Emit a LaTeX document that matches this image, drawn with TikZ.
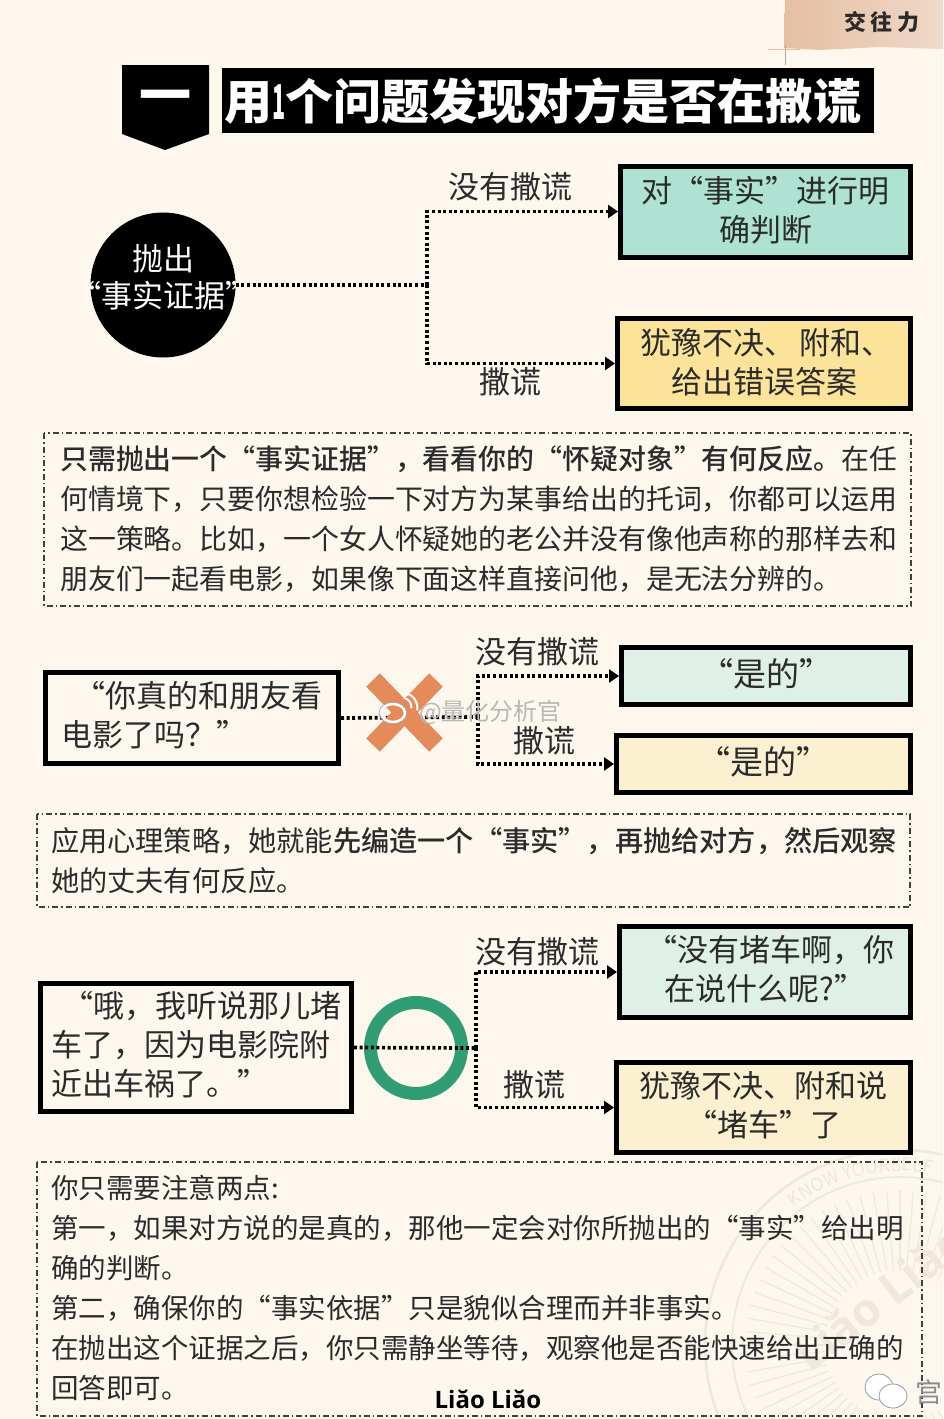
\documentclass[tikz,border=0pt]{standalone}
\usepackage{graphicx}
\usepackage{fontspec}
\setmainfont{Noto Sans CJK SC}
\newfontfamily\logofont{Open Sans}
\usetikzlibrary{arrows.meta,calc,decorations.text}
\definecolor{bgc}{HTML}{FDF7EE}
\definecolor{ink}{HTML}{2B2B2B}
\definecolor{mintA}{HTML}{AEE3D3}
\definecolor{mintB}{HTML}{DFF0E6}
\definecolor{yelA}{HTML}{FBE39A}
\definecolor{yelB}{HTML}{FBF0CF}
\definecolor{xorange}{HTML}{E58B5A}
\definecolor{ringg}{HTML}{2F9E74}
\definecolor{tape}{HTML}{E5BFA3}
\definecolor{tapeb}{HTML}{EFD9C8}
\definecolor{seal}{HTML}{F1E7DA}
\newcommand\upfix[1][8]{\rule[-#1pt]{0pt}{0pt}}
\tikzset{
  bx/.style={draw=black,line width=5pt,inner sep=0pt,outer sep=2.5pt,align=center,text=ink,font=\fontsize{31}{39}\selectfont},
  lab/.style={inner sep=0pt,text=ink,font=\fontsize{31}{39}\selectfont},
  para/.style={inner sep=0pt,anchor=west,align=left,text=ink,font=\fontsize{27.9}{40}\selectfont},
  framebox/.style={draw=black!75,line width=1.1pt,dash pattern=on 6pt off 3pt on 1.5pt off 3pt},
  conn/.style={draw=black,line width=3.7pt,dash pattern=on 3pt off 2.6pt},
  arr/.style={conn,-{Triangle[length=10pt,width=13pt,sep=0pt]}},
}
\begin{document}
\begin{tikzpicture}[x=1pt,y=-1pt]
\useasboundingbox (0,0) rectangle (943,1419);
\fill[bgc] (0,0) rectangle (943,1419);
% faint seal
\begin{scope}
\clip (0,0) rectangle (943,1419);
\begin{scope}[shift={(900,1345)}]
\draw[seal,line width=2.5pt] (0,0) circle (195);
\draw[seal,line width=1.8pt] (0,0) circle (168);
\foreach \a in {0,5,...,355} \draw[seal,line width=1.1pt] (\a:75) -- (\a:155);
\path[decorate,decoration={text along path,text align=center,
   text={|\fontsize{18}{18}\selectfont\color{seal}|KNOW YOURSELF}}] (-135:174) arc (-135:-72:174);
\end{scope}
\node (sealtxt) [rotate=38,text=seal,font=\logofont\bfseries\fontsize{46}{46}\selectfont,inner sep=0pt] at (880,1297) {Liăo Liăo};
\end{scope}
% tape
\shade[left color=tape,right color=tapeb] (785,0) -- (784,48) -- (820,50) -- (880,47) -- (943,49) -- (943,0) -- cycle;
\draw[tape!85!black,line width=.8pt] (785,45) -- (785,65);
\draw[tape,line width=.8pt] (768,49) -- (800,49);
\node (tag) [inner sep=0pt,text=ink,font=\bfseries\fontsize{22}{22}\selectfont] at (882,22) {交\hspace{4.5pt}往\hspace{4.5pt}力};
% title
\fill[black] (122,65) -- (209,65) -- (209,134) -- (165,150) -- (122,134) -- cycle;
\node (one) [inner sep=0pt,text=white,font=\bfseries\fontsize{52}{52}\selectfont] at (165,102) {一};
\fill[black] (222,68) rectangle (874,133);
\node (title) [anchor=west,inner sep=0pt,text=white,font=\bfseries\fontsize{48}{48}\selectfont] at (224,101) {用\scalebox{0.45}[1]{1}个问题发现对方是否在撒谎};
% section 1
\node (c1) [circle,fill=black,minimum size=145pt,inner sep=0pt] at (163,285) {};
\node (c1t) [inner sep=0pt,align=center,text=white,font=\fontsize{31}{38}\selectfont] at (163,277) {抛出\\[-1pt]“事实证据”};
\node (a1) [bx,fill=mintA,minimum width=290pt,minimum height=91pt] at (765.5,211.5) {对“事实”进行明\\确判断\upfix[6]};
\node (a2) [bx,fill=yelA,minimum width=293pt,minimum height=90pt] at (764,363.5) {\hspace*{5pt}犹豫不决、\hspace{5pt}附和、\\给出错误答案\upfix[6]};
\node (l1) [lab] at (510,187) {没有撒谎};
\node (l2) [lab] at (510,382) {撒谎};
\coordinate (j1) at (427,285);
\draw[conn] (c1.east) -- (j1);
\draw[arr] (j1) |- (a1.west);
\draw[arr] (j1) |- (a2.west);
\draw[framebox] (44,433) rectangle (911,606);
\node (p1) [para] at (60,519) {\fontspec{Noto Sans CJK SC Medium}只需抛出一个“事实证据”，看看你的“怀疑对象”有何反应。\fontspec{Noto Sans CJK SC}在任\\何情境下，只要你想检验一下对方为某事给出的托词，你都可以运用\\这一策略。比如，一个女人怀疑她的老公并没有像他声称的那样去和\\朋友们一起看电影，如果像下面这样直接问他，是无法分辨的。};
% section 2
\node (q1) [bx,fill=bgc,minimum width=293pt,minimum height=91pt,align=left] at (192,718) {\hspace*{13pt}“你真的和朋友看\\电影了吗？”\upfix};
\node (b1) [bx,fill=mintB,minimum width=289pt,minimum height=57pt,font=\fontsize{33}{39}\selectfont] at (766,676) {“是的”\upfix[6]};
\node (b2) [bx,fill=yelB,minimum width=294pt,minimum height=57pt,font=\fontsize{33}{39}\selectfont] at (763.5,764) {“是的”\upfix[6]};
\node (l3) [lab] at (537,652) {没有撒谎};
\node (l4) [lab] at (544,741) {撒谎};
\coordinate (j2) at (478,717);
\draw[conn] (q1.east) -- (j2);
\draw[arr] (j2) |- (b1.west);
\draw[arr] (j2) |- (b2.west);
\draw[xorange,line width=19pt] (373,680) -- (436,745);
\draw[xorange,line width=19pt] (436,680) -- (373,745);
% watermark
\draw[white,line width=2.5pt] (393,713) ellipse (12 and 9);
\draw[white,line width=2pt] (404,698) arc (-80:10:9);
\draw[white,line width=2pt] (405,693) arc (-80:10:15);
\draw[black!35,line width=.7pt] (393,713) ellipse (14 and 11);
\node (wm) [anchor=west,inner sep=0pt,text=black!28,font=\fontsize{24}{24}\selectfont] at (419,712) {@量化分析官};
\draw[framebox] (37,814) rectangle (910,907);
\node (p2) [para,font=\fontsize{28.2}{40}\selectfont] at (51,861) {应用心理策略，她就能\fontspec{Noto Sans CJK SC Medium}先编造一个“事实”，再抛给对方，然后观察\fontspec{Noto Sans CJK SC}\\她的丈夫有何反应。};
% section 3
\node (q2) [bx,fill=bgc,minimum width=311pt,minimum height=128pt,align=left] at (196,1047.5) {\hspace*{11pt}“哦，我听说那儿堵\\车了，因为电影院附\\近出车祸了。”\upfix};
\node (g) [circle,draw=ringg,line width=13pt,minimum size=91pt,inner sep=0pt] at (416,1048) {};
\node (d1) [bx,fill=mintB,minimum width=291pt,minimum height=91pt] at (765,972) {\hspace*{10pt}“没有堵车啊，你\\在说什么呢?”\upfix};
\node (d2) [bx,fill=yelB,minimum width=294pt,minimum height=90pt] at (763.5,1107.5) {犹豫不决、附和说\\“堵车”了\upfix};
\node (l5) [lab] at (537,952) {没有撒谎};
\node (l6) [lab] at (534,1085) {撒谎};
\coordinate (j3) at (476,1048);
\draw[conn] (q2.east) -- (j3);
\draw[arr] (j3) |- (d1.west);
\draw[arr] (j3) |- (d2.west);
\draw[framebox] (37,1162) rectangle (922,1416);
\node (p3) [para,font=\fontsize{27.5}{40}\selectfont] at (51,1288) {你只需要注意两点:\\第一，如果对方说的是真的，那他一定会对你所抛出的“事实”给出明\\确的判断。\\第二，确保你的“事实依据”只是貌似合理而并非事实。\\在抛出这个证据之后，你只需静坐等待，观察他是否能快速给出正确的\\回答即可。};
% footer
\node (logo) [inner sep=0pt,text=black,font=\logofont\bfseries\fontsize{24}{24}\selectfont] at (488,1399) {Liăo Liăo};
\draw[black!40,fill=white,line width=.8pt] (879,1387) ellipse (14 and 13);
\draw[black!40,fill=white,line width=.8pt] (893,1396) ellipse (14 and 12);
\node (wx) [anchor=west,inner sep=0pt,text=black!45,font=\fontsize{27}{27}\selectfont] at (915,1392) {宫};
\end{tikzpicture}
\end{document}
